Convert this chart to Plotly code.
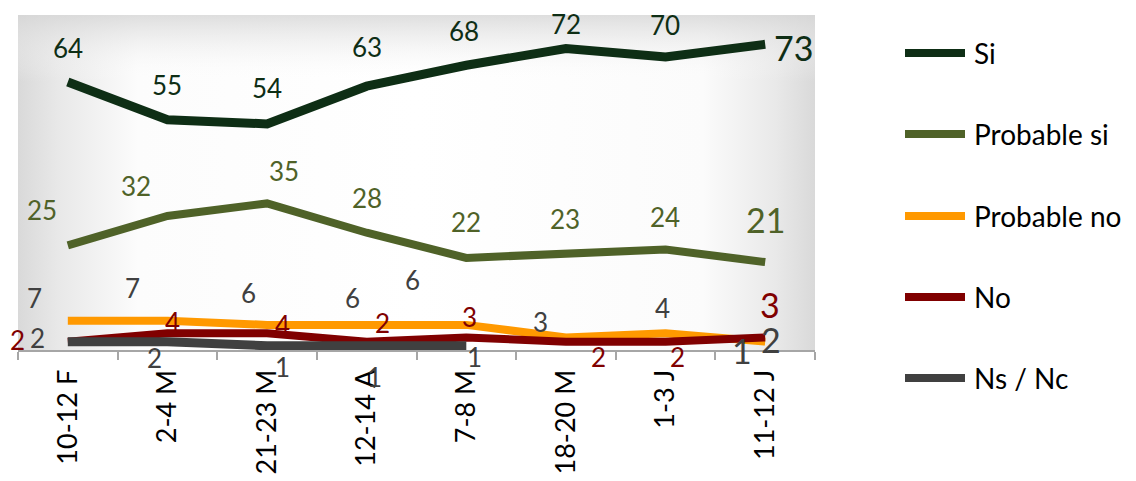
import base64
import plotly.graph_objects as go

# ---------------- data ----------------
categories = ["10-12 F", "2-4 M", "21-23 M", "12-14 A", "7-8 M", "18-20 M", "1-3 J", "11-12 J"]
si = [64, 55, 54, 63, 68, 72, 70, 73]
probable_si = [25, 32, 35, 28, 22, 23, 24, 21]
probable_no = [7, 7, 6, 6, 6, 3, 4, 2]
no = [2, 4, 4, 2, 3, 2, 2, 3]
ns_nc = [2, 2, 1, 1, 1, None, None, 1]
series_names = ["Si", "Probable si", "Probable no", "No", "Ns / Nc"]

# ---------------- styles ----------------
line_colors = ["#0e2e15", "#4f6228", "#ff9900", "#800000", "#404040"]
label_colors = ["#0e2e15", "#4f6228", "#404040", "#800000", "#404040"]
line_widths = [9, 8, 8, 8, 9]
# label offsets in pixels (dx, dy with dy positive downward)
offsets = [
    [(0, -34), (0, -35), (0, -36), (0, -39), (-2, -34), (0, -25), (-1, -32), (28, 3)],
    [(-26, -35), (-31, -30), (17, -32), (0, -35), (0, -36), (-1, -35), (-1, -33), (0, -43)],
    [(-33, -23), (-35, -33), (-19, -32), (-14, -27), (-54, -45), (-25, -15), (-3, -25), (6, -2)],
    [(-50, -2), (5, -11), (15, -8), (16, -19), (3, -20), (33, 15), (12, 15), (5, -33)],
    [(-30, -4), (-13, 16), (15, 21), (8, 31), (8, 11), (0, 0), (0, 0), (-23, 5)],
]
FONT = "Lato"
LABEL_SIZE = 26
BIG_SIZE = 34

# page body has an 8px margin: draw the figure 8px smaller so it lines up
OFF = 8
W_IMG, H_IMG = 1136, 481
L, R, T, B = 18, 815, 15, 350
PW, PH = R - L, B - T


def px_x(p):
    return (p - L) / PW


def px_y(p):
    return (B - p) / PH


all_series = [si, probable_si, probable_no, no, ns_nc]
x_idx = list(range(len(categories)))

fig = go.Figure()
for name, vals, col, lw in zip(series_names, all_series, line_colors, line_widths):
    fig.add_trace(go.Scatter(
        x=x_idx, y=vals, mode="lines", name=name,
        line=dict(color=col, width=lw), connectgaps=False,
        showlegend=False, hoverinfo="skip",
    ))

annotations = []
for s, vals in enumerate(all_series):
    for i, v in enumerate(vals):
        if v is None:
            continue
        dx, dy = offsets[s][i]
        big = (i == len(vals) - 1)
        annotations.append(dict(
            x=i, y=v, xref="x", yref="y", text=str(v), showarrow=False,
            xanchor="center", yanchor="middle", xshift=dx, yshift=-dy,
            font=dict(family=FONT, size=BIG_SIZE if big else LABEL_SIZE, color=label_colors[s]),
        ))

# manual legend
legend_y = [53, 134, 216, 297, 378]
shapes = []
for name, col, ly in zip(series_names, line_colors, legend_y):
    shapes.append(dict(
        type="line", xref="paper", yref="paper",
        x0=px_x(905), x1=px_x(965), y0=px_y(ly), y1=px_y(ly),
        line=dict(color=col, width=8),
    ))
    annotations.append(dict(
        x=px_x(972), y=px_y(ly), xref="paper", yref="paper", text=name,
        showarrow=False, xanchor="left", yanchor="middle",
        font=dict(family=FONT, size=28, color="#000000"),
    ))

# gradient background for plot area
svg = (
    '<svg xmlns="http://www.w3.org/2000/svg" width="797" height="335" viewBox="0 0 797 335" preserveAspectRatio="none">'
    '<defs>'
    '<linearGradient id="h" x1="0" y1="0" x2="1" y2="0">'
    '<stop offset="0" stop-color="#d9d9d9"/>'
    '<stop offset="0.05" stop-color="#e8e8e8"/>'
    '<stop offset="0.15" stop-color="#fcfcfc"/>'
    '<stop offset="0.5" stop-color="#ffffff"/>'
    '<stop offset="0.86" stop-color="#fbfbfb"/>'
    '<stop offset="0.95" stop-color="#e9e9e9"/>'
    '<stop offset="1" stop-color="#d9d9d9"/>'
    '</linearGradient>'
    '<linearGradient id="v" x1="0" y1="0" x2="0" y2="1">'
    '<stop offset="0" stop-color="#d6d6d6" stop-opacity="0.8"/>'
    '<stop offset="0.08" stop-color="#e6e6e6" stop-opacity="0.5"/>'
    '<stop offset="0.2" stop-color="#ffffff" stop-opacity="0"/>'
    '</linearGradient>'
    '</defs>'
    '<rect x="0" y="0" width="797" height="335" fill="url(#h)"/>'
    '<rect x="0" y="0" width="797" height="335" fill="url(#v)"/>'
    '</svg>'
)
src = "data:image/svg+xml;base64," + base64.b64encode(svg.encode()).decode()

fig.update_layout(
    template="none",
    width=W_IMG - OFF, height=H_IMG - OFF,
    margin=dict(l=L - OFF, r=W_IMG - R, t=T - OFF, b=H_IMG - B, pad=0, autoexpand=False),
    paper_bgcolor="#ffffff", plot_bgcolor="rgba(0,0,0,0)",
    showlegend=False,
    annotations=annotations, shapes=shapes,
    images=[dict(source=src, xref="paper", yref="paper", x=0, y=1, sizex=1, sizey=1,
                 sizing="stretch", layer="below", xanchor="left", yanchor="top")],
    xaxis=dict(
        automargin=False,
        range=[-0.5, len(categories) - 0.5], tickvals=x_idx, ticktext=categories,
        tickangle=-90, ticks="outside", ticklen=0, showgrid=False, zeroline=False,
        ticklabelstandoff=7,
        showline=True, linecolor="#a6a6a6", linewidth=2,
        tickfont=dict(family=FONT, size=27, color="#000000"),
        minor=dict(tickvals=[i - 0.5 for i in range(len(categories) + 1)],
                   ticks="outside", ticklen=8, tickcolor="#a6a6a6", tickwidth=2, showgrid=False),
        fixedrange=True,
    ),
    yaxis=dict(automargin=False, range=[0, 80], visible=False, showgrid=False,
               zeroline=False, fixedrange=True),
)

fig.write_html("out.html")
